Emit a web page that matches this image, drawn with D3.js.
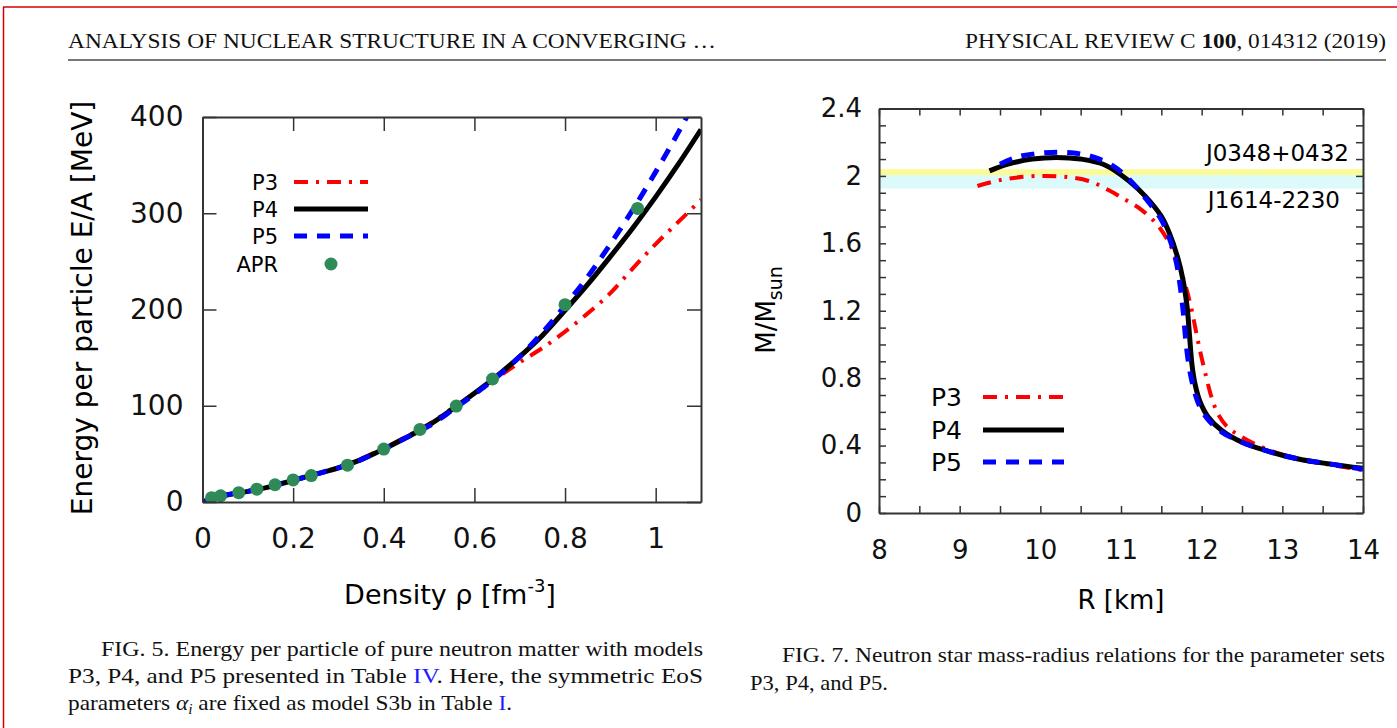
<!DOCTYPE html>
<html>
<head>
<meta charset="utf-8">
<script src="https://cdn.jsdelivr.net/npm/d3@7"></script>
<style>
  html, body { margin: 0; padding: 0; background: #fff; }
  svg { display: block; }
  .tick text { font-family: "DejaVu Sans", sans-serif; fill: #111; }
  .serif { font-family: "Liberation Serif", "Times New Roman", serif; fill: #111; }
</style>
</head>
<body>
<svg id="page" width="1397" height="728"></svg>
<script>
// ---- Fig. 5 data: energy per particle of pure neutron matter ----
const density  = [0, 0.05, 0.1, 0.15, 0.2, 0.25, 0.3, 0.35, 0.4, 0.45, 0.5, 0.55, 0.6, 0.65, 0.7, 0.75, 0.8, 0.85, 0.9, 0.95, 1.0, 1.05, 1.1];
const p3Energy = [0, 7, 11, 16, 22.5, 29, 36, 45, 56, 68, 81, 97, 113, 129, 145, 160, 177, 196, 217, 243, 268, 291, 314];
const p4Energy = [0, 7, 11, 16, 22.5, 29, 35.5, 44, 55, 67, 80, 96, 113, 131, 151, 173, 199, 226, 255, 285, 317, 351, 387];
const p5Energy = [0, 7, 11, 16, 22.5, 29, 35.5, 44, 55, 67, 79, 95, 112, 130, 151, 176, 204, 234, 268, 304, 343, 384, 428];
const aprDensity = [0.02, 0.04, 0.08, 0.12, 0.16, 0.2, 0.24, 0.32, 0.4, 0.48, 0.56, 0.64, 0.8, 0.96];
const aprEnergy  = [4.5, 6.5, 9.7, 13.3, 17.9, 22.9, 27.5, 38.3, 55.0, 75.4, 99.7, 127.8, 205, 305];
const densityTicks = [0, 0.2, 0.4, 0.6, 0.8, 1];
const energyTicks  = [0, 100, 200, 300, 400];

// ---- Fig. 7 data: neutron star mass-radius relations ----
const p3Radius = [9.22, 9.5, 9.8, 10.05, 10.3, 10.6, 10.85, 11.05, 11.25, 11.45, 11.6, 11.7, 11.78, 11.85, 11.9, 11.95, 12.0, 12.06, 12.12, 12.2, 12.32, 12.5, 12.8, 13.2, 13.6, 14.0];
const p3Mass   = [1.94, 1.975, 1.995, 2.0, 1.995, 1.97, 1.915, 1.86, 1.8, 1.71, 1.6, 1.49, 1.38, 1.26, 1.15, 1.03, 0.92, 0.8, 0.69, 0.59, 0.51, 0.45, 0.38, 0.32, 0.285, 0.255];
const p4Radius = [9.37, 9.6, 9.9, 10.2, 10.5, 10.8, 11.1, 11.3, 11.5, 11.6, 11.7, 11.77, 11.82, 11.85, 11.88, 11.92, 11.98, 12.08, 12.25, 12.5, 12.8, 13.2, 13.6, 14.0];
const p4Mass   = [2.03, 2.07, 2.1, 2.11, 2.1, 2.065, 1.97, 1.88, 1.76, 1.66, 1.52, 1.38, 1.22, 1.05, 0.88, 0.76, 0.66, 0.57, 0.49, 0.42, 0.37, 0.32, 0.29, 0.265];
const p5Radius = [9.5, 9.7, 10.0, 10.3, 10.6, 10.9, 11.1, 11.3, 11.5, 11.6, 11.68, 11.73, 11.77, 11.8, 11.84, 11.89, 11.96, 12.07, 12.25, 12.5, 12.8, 13.2, 13.6, 14.0];
const p5Mass   = [2.07, 2.11, 2.135, 2.14, 2.12, 2.06, 1.98, 1.87, 1.74, 1.63, 1.5, 1.36, 1.2, 1.04, 0.88, 0.76, 0.65, 0.56, 0.48, 0.42, 0.37, 0.32, 0.29, 0.26];
const j0348Band = [2.005, 2.04];
const j1614Band = [1.925, 2.005];
const radiusTicks = [8, 9, 10, 11, 12, 13, 14];
const radiusMinor = d3.range(8, 14.01, 0.5);
const massTicks   = [0, 0.4, 0.8, 1.2, 1.6, 2, 2.4];
const massMinor   = d3.range(0, 2.401, 0.1);

const seriesNames = ["P3", "P4", "P5"];

// line styles shared by both figures
const styles = {
  P3: { color: "#ff0000", width: 4, dash: "14,8,3,8" },
  P4: { color: "#000000", width: 5, dash: null },
  P5: { color: "#0000ff", width: 5, dash: "13,10" }
};

const svg = d3.select("#page");

// page chrome: red border, running head, rule
svg.append("line").attr("x1", 3).attr("x2", 1397).attr("y1", 7).attr("y2", 7)
  .attr("stroke", "#d40000").attr("stroke-width", 1.5);
svg.append("line").attr("x1", 3.5).attr("x2", 3.5).attr("y1", 7).attr("y2", 728)
  .attr("stroke", "#d40000").attr("stroke-width", 1.5);

svg.append("text").attr("class", "serif").attr("x", 68).attr("y", 48)
  .attr("font-size", 22).attr("textLength", 648).attr("lengthAdjust", "spacingAndGlyphs")
  .text("ANALYSIS OF NUCLEAR STRUCTURE IN A CONVERGING …");
const rh = svg.append("text").attr("class", "serif").attr("x", 965).attr("y", 48)
  .attr("font-size", 22).attr("textLength", 421).attr("lengthAdjust", "spacingAndGlyphs");
rh.append("tspan").text("PHYSICAL REVIEW C ");
rh.append("tspan").attr("font-weight", "bold").text("100");
rh.append("tspan").text(", 014312 (2019)");
svg.append("line").attr("x1", 68).attr("x2", 1386).attr("y1", 60).attr("y2", 60)
  .attr("stroke", "#777").attr("stroke-width", 2);

// generic boxed frame with mirrored inward ticks (gnuplot look)
function drawFrame(g, x, y, opts) {
  const [x0, x1] = x.range();
  const [y1, y0] = y.range();
  const t = opts.tick;

  const bottom = g.append("g").attr("transform", `translate(0,${y1})`)
    .call(d3.axisBottom(x).tickValues(opts.xMinor).tickSizeInner(-t).tickSizeOuter(0)
      .tickPadding(opts.xPad).tickFormat(d => opts.xTicks.some(v => Math.abs(v - d) < 1e-9) ? opts.xFmt(d) : ""));
  const top = g.append("g").attr("transform", `translate(0,${y0})`)
    .call(d3.axisTop(x).tickValues(opts.xMinor).tickSizeInner(-t).tickSizeOuter(0).tickFormat(""));
  const left = g.append("g").attr("transform", `translate(${x0},0)`)
    .call(d3.axisLeft(y).tickValues(opts.yMinor).tickSizeInner(-t).tickSizeOuter(0)
      .tickPadding(opts.yPad).tickFormat(d => opts.yTicks.some(v => Math.abs(v - d) < 1e-9) ? opts.yFmt(d) : ""));
  const right = g.append("g").attr("transform", `translate(${x1},0)`)
    .call(d3.axisRight(y).tickValues(opts.yMinor).tickSizeInner(-t).tickSizeOuter(0).tickFormat(""));

  [bottom, top, left, right].forEach(a => {
    a.select(".domain").attr("stroke", "#333").attr("stroke-width", 2);
    a.selectAll(".tick line").attr("stroke", "#333").attr("stroke-width", 1.5);
    a.selectAll(".tick text").attr("font-size", opts.fontSize);
  });
  g.selectAll(".tick text").filter(function () { return this.textContent === ""; }).remove();
}

function addDashed(sel, s) {
  sel.attr("fill", "none").attr("stroke", s.color).attr("stroke-width", s.width);
  if (s.dash) sel.attr("stroke-dasharray", s.dash);
  return sel;
}

// ================= Fig. 5 =================
{
  const g = svg.append("g");
  const x = d3.scaleLinear().domain([0, 1.1]).range([202.5, 701]);
  const y = d3.scaleLinear().domain([0, 400]).range([502, 117]);

  g.append("clipPath").attr("id", "clip5").append("rect")
    .attr("x", 202.5).attr("y", 117).attr("width", 701 - 202.5).attr("height", 502 - 117);

  const energyBy = { P3: p3Energy, P4: p4Energy, P5: p5Energy };
  const line = d3.line().curve(d3.curveMonotoneX)
    .x(d => x(d[0])).y(d => y(d[1]));
  const plot = g.append("g").attr("clip-path", "url(#clip5)");
  seriesNames.forEach(name => {
    const pts = density.map((d, i) => [d, energyBy[name][i]]);
    addDashed(plot.append("path").attr("d", line(pts)), styles[name]);
  });
  plot.selectAll("circle.apr")
    .data(aprDensity.map((d, i) => [d, aprEnergy[i]]))
    .join("circle").attr("class", "apr")
    .attr("cx", d => x(d[0])).attr("cy", d => y(d[1])).attr("r", 6.5)
    .attr("fill", "#2e8b57");

  drawFrame(g, x, y, {
    tick: 14, xTicks: densityTicks, xMinor: densityTicks, yTicks: energyTicks, yMinor: energyTicks,
    xFmt: d3.format("~g"), yFmt: d3.format("d"), xPad: 26, yPad: 19, fontSize: 28
  });

  // legend
  const leg = g.append("g").attr("font-family", "DejaVu Sans, sans-serif").attr("font-size", 21);
  const legY = [182, 209, 236];
  seriesNames.forEach((name, i) => {
    leg.append("text").attr("x", 278).attr("y", legY[i]).attr("dy", "0.36em")
      .attr("text-anchor", "end").text(name);
    addDashed(leg.append("line").attr("x1", 294).attr("x2", 368).attr("y1", legY[i]).attr("y2", legY[i]), styles[name]);
  });
  leg.append("text").attr("x", 278).attr("y", 264).attr("dy", "0.36em")
    .attr("text-anchor", "end").text("APR");
  leg.append("circle").attr("cx", 331).attr("cy", 264).attr("r", 6.5).attr("fill", "#2e8b57");

  // axis titles
  const xt = g.append("text").attr("x", 450).attr("y", 604).attr("text-anchor", "middle")
    .attr("font-family", "DejaVu Sans, sans-serif").attr("font-size", 27);
  xt.append("tspan").text("Density ρ [fm");
  xt.append("tspan").attr("font-size", 18).attr("dy", -12).text("-3");
  xt.append("tspan").attr("dy", 12).text("]");
  g.append("text").attr("transform", "translate(92,308) rotate(-90)").attr("text-anchor", "middle")
    .attr("font-family", "DejaVu Sans, sans-serif").attr("font-size", 28)
    .text("Energy per particle E/A [MeV]");
}

// ================= Fig. 7 =================
{
  const g = svg.append("g");
  const x = d3.scaleLinear().domain([8, 14]).range([879, 1363]);
  const y = d3.scaleLinear().domain([0, 2.4]).range([513, 108.5]);

  // pulsar mass bands
  g.append("rect").attr("x", x(8)).attr("width", x(14) - x(8))
    .attr("y", y(j1614Band[1])).attr("height", y(j1614Band[0]) - y(j1614Band[1]))
    .attr("fill", "#dcfafa");
  g.append("rect").attr("x", x(8)).attr("width", x(14) - x(8))
    .attr("y", y(j0348Band[1])).attr("height", y(j0348Band[0]) - y(j0348Band[1]))
    .attr("fill", "#fafa96");

  g.append("clipPath").attr("id", "clip7").append("rect")
    .attr("x", 879).attr("y", 108.5).attr("width", 1363 - 879).attr("height", 513 - 108.5);

  const curves = {
    P3: [p3Radius, p3Mass],
    P4: [p4Radius, p4Mass],
    P5: [p5Radius, p5Mass]
  };
  const line = d3.line().curve(d3.curveCatmullRom.alpha(0.5))
    .x(d => x(d[0])).y(d => y(d[1]));
  const plot = g.append("g").attr("clip-path", "url(#clip7)");
  seriesNames.forEach(name => {
    const [r, m] = curves[name];
    const pts = r.map((v, i) => [v, m[i]]);
    addDashed(plot.append("path").attr("d", line(pts)), styles[name]);
  });

  drawFrame(g, x, y, {
    tick: 7, xTicks: radiusTicks, xMinor: radiusMinor, yTicks: massTicks, yMinor: massMinor,
    xFmt: d3.format("d"), yFmt: d3.format("~g"), xPad: 28, yPad: 17, fontSize: 26
  });

  // band labels
  g.append("text").attr("x", 1349).attr("y", 153).attr("dy", "0.36em").attr("text-anchor", "end")
    .attr("font-family", "DejaVu Sans, sans-serif").attr("font-size", 23).text("J0348+0432");
  g.append("text").attr("x", 1340).attr("y", 200).attr("dy", "0.36em").attr("text-anchor", "end")
    .attr("font-family", "DejaVu Sans, sans-serif").attr("font-size", 23).text("J1614-2230");

  // legend
  const leg = g.append("g").attr("font-family", "DejaVu Sans, sans-serif").attr("font-size", 25);
  const legY = [397, 430, 462];
  seriesNames.forEach((name, i) => {
    leg.append("text").attr("x", 962).attr("y", legY[i]).attr("dy", "0.36em")
      .attr("text-anchor", "end").text(name);
    addDashed(leg.append("line").attr("x1", 983).attr("x2", 1064).attr("y1", legY[i]).attr("y2", legY[i]), styles[name]);
  });

  // axis titles
  g.append("text").attr("x", 1121).attr("y", 609).attr("text-anchor", "middle")
    .attr("font-family", "DejaVu Sans, sans-serif").attr("font-size", 26).text("R [km]");
  const yt = g.append("text").attr("transform", "translate(775,310) rotate(-90)").attr("text-anchor", "middle")
    .attr("font-family", "DejaVu Sans, sans-serif").attr("font-size", 26);
  yt.append("tspan").text("M/M");
  yt.append("tspan").attr("font-size", 19).attr("dy", 7).text("sun");
}

// ================= captions =================
function caption(x, y, len, parts) {
  const t = svg.append("text").attr("class", "serif").attr("x", x).attr("y", y).attr("font-size", 21);
  if (len) t.attr("textLength", len).attr("lengthAdjust", "spacingAndGlyphs");
  parts.forEach(p => {
    const s = t.append("tspan").text(p.t);
    if (p.c) s.attr("fill", p.c);
    if (p.i) s.attr("font-style", "italic");
    if (p.sub) s.attr("font-size", 14).attr("dy", 4);
    if (p.up) s.attr("dy", -4);
  });
}
caption(101, 656, 602, [{ t: "FIG. 5.  Energy per particle of pure neutron matter with models" }]);
caption(68, 683, 635, [{ t: "P3, P4, and P5 presented in Table " }, { t: "IV", c: "#1a1aff" },
  { t: ". Here, the symmetric EoS" }]);
caption(68, 710, 444, [{ t: "parameters " }, { t: "α", i: true }, { t: "i", i: true, sub: true },
  { t: " are fixed as model S3b in Table ", up: true }, { t: "I", c: "#1a1aff" }, { t: "." }]);
caption(782, 662, 603, [{ t: "FIG. 7.  Neutron star mass-radius relations for the parameter sets" }]);
caption(750, 690, 138, [{ t: "P3, P4, and P5." }]);
</script>
</body>
</html>
